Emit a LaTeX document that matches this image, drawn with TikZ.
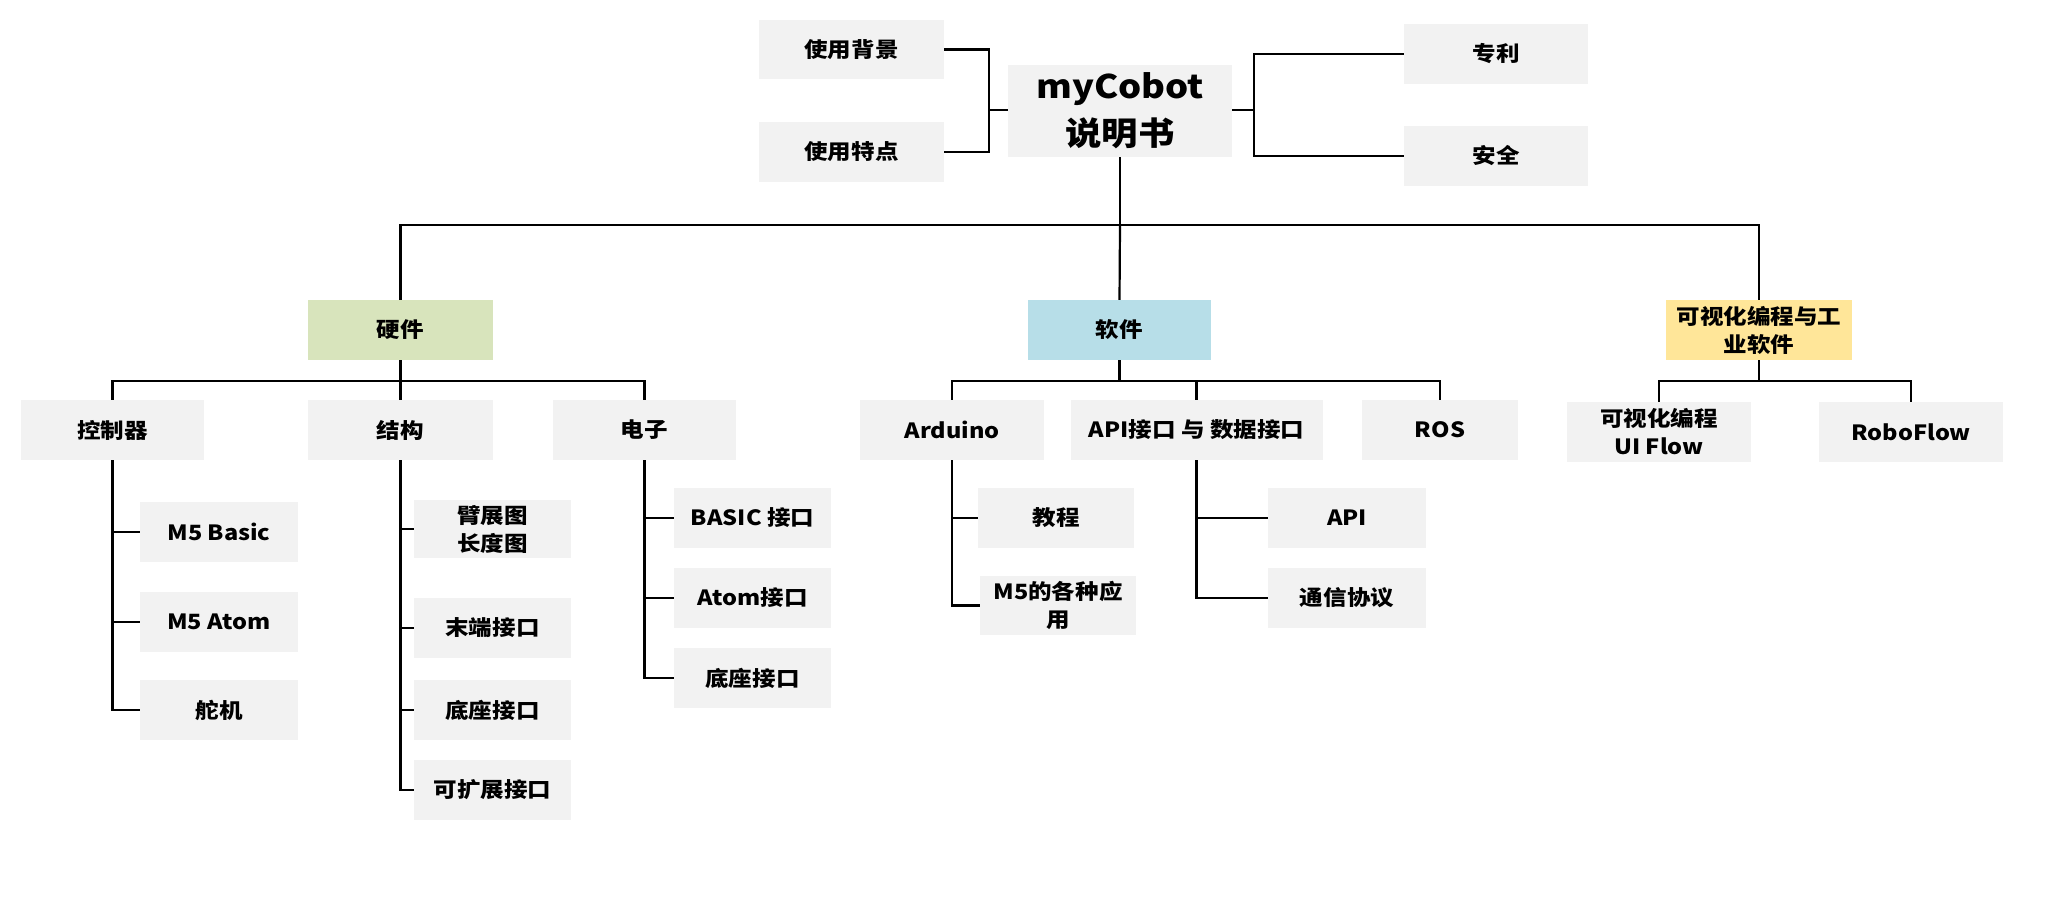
\documentclass[tikz,border=0pt]{standalone}
\usepackage{fontspec}
\setmainfont{Noto Sans CJK SC}[FakeStretch=1.12]
\definecolor{boxgray}{HTML}{F2F2F2}
\definecolor{hwgreen}{HTML}{D8E4BC}
\definecolor{swblue}{HTML}{B7DEE8}
\definecolor{visyellow}{HTML}{FFE699}
\tikzset{
  bx/.style={rectangle, fill=boxgray, inner sep=0pt, align=center,
    font=\fontsize{21}{28}\selectfont\bfseries},
  conn/.style={draw=black, line width=2.2pt}
}
\begin{document}
\begin{tikzpicture}[x=1pt, y=-1pt]
\useasboundingbox (0,0) rectangle (2058,898);
% top level
\node[bx, minimum width=185pt, minimum height=59pt] (bg) at (851.5,49.5) {使用背景};
\node[bx, minimum width=185pt, minimum height=60pt] (tz) at (851.5,152) {使用特点};
\node[bx, minimum width=224pt, minimum height=92pt, font=\fontsize{32.5}{47}\selectfont\bfseries] (root) at (1120,111) {myCobot\\说明书};
\node[bx, minimum width=184pt, minimum height=60pt] (zl) at (1496,54) {专利};
\node[bx, minimum width=184pt, minimum height=60pt] (aq) at (1496,156) {安全};
% second level
\node[bx, fill=hwgreen, minimum width=185pt, minimum height=60pt] (hw) at (400.5,330) {硬件};
\node[bx, fill=swblue, minimum width=183pt, minimum height=60pt] (sw) at (1119.5,330) {软件};
\node[bx, fill=visyellow, minimum width=186pt, minimum height=60pt, text width=180pt] (vis) at (1759,330) {可视化编程与工\\业软件};
% hardware
\node[bx, minimum width=183pt, minimum height=60pt] (kz) at (112.5,430) {控制器};
\node[bx, minimum width=185pt, minimum height=60pt] (jg) at (400.5,430) {结构};
\node[bx, minimum width=183pt, minimum height=60pt] (dz) at (644.5,430) {电子};
\node[bx, minimum width=158pt, minimum height=60pt] (m5b) at (219,532) {M5 Basic};
\node[bx, minimum width=158pt, minimum height=60pt] (m5a) at (219,622) {M5 Atom};
\node[bx, minimum width=158pt, minimum height=60pt] (dj) at (219,710) {舵机};
\node[bx, minimum width=157pt, minimum height=58pt] (bz) at (492.5,529) {臂展图\\长度图};
\node[bx, minimum width=157pt, minimum height=60pt] (mdjk) at (492.5,628) {末端接口};
\node[bx, minimum width=157pt, minimum height=60pt] (dzjka) at (492.5,710) {底座接口};
\node[bx, minimum width=157pt, minimum height=60pt] (kkz) at (492.5,790) {可扩展接口};
\node[bx, minimum width=157pt, minimum height=60pt] (basic) at (752.5,518) {BASIC 接口};
\node[bx, minimum width=157pt, minimum height=60pt] (atomjk) at (752.5,598) {Atom接口};
\node[bx, minimum width=157pt, minimum height=60pt] (dzjkb) at (752.5,678) {底座接口};
% software
\node[bx, minimum width=184pt, minimum height=60pt] (ard) at (952,430) {Arduino};
\node[bx, minimum width=252pt, minimum height=60pt] (api) at (1196.5,430) {API接口 与 数据接口};
\node[bx, minimum width=156pt, minimum height=60pt] (ros) at (1440,430) {ROS};
\node[bx, minimum width=156pt, minimum height=60pt] (jc) at (1056,518) {教程};
\node[bx, minimum width=156pt, minimum height=59pt, text width=150pt] (m5app) at (1058,605.5) {M5的各种应\\用};
\node[bx, minimum width=158pt, minimum height=60pt] (apin) at (1347,518) {API};
\node[bx, minimum width=158pt, minimum height=60pt] (tx) at (1347,598) {通信协议};
% visual programming
\node[bx, minimum width=184pt, minimum height=60pt] (uif) at (1659,432) {可视化编程\\UI Flow};
\node[bx, minimum width=184pt, minimum height=60pt] (rf) at (1911,432) {RoboFlow};
% junctions
\coordinate (lj) at (989,110);
\coordinate (rj) at (1254,110);
\coordinate (mj) at (1120,225);
\coordinate (hb) at (400.5,381);
\coordinate (sb) at (1119.5,381);
\coordinate (vb) at (1759,381);
% connectors
\draw[conn] (bg.east) -| (lj) -- (lj -| root.west);
\draw[conn] (tz.east) -| (lj);
\draw[conn] (rj -| root.east) -- (rj) |- (zl.west);
\draw[conn] (rj) |- (aq.west);
\draw[conn] (root.south) -- (mj);
\draw[conn] (hw.north) -- (hw.north |- mj) -- (vis.north |- mj) -- (vis.north);
\draw[conn] (mj) -- (sw.north);
% hardware bus
\draw[conn] (hw.south) -- (hb);
\draw[conn] (kz.north) |- (hb) -| (dz.north);
\draw[conn] (hb) -- (jg.north);
\draw[conn] (kz.south) |- (dj.west);
\draw[conn] (kz.south |- m5b.west) -- (m5b.west);
\draw[conn] (kz.south |- m5a.west) -- (m5a.west);
\draw[conn] (jg.south) |- (kkz.west);
\draw[conn] (jg.south |- bz.west) -- (bz.west);
\draw[conn] (jg.south |- mdjk.west) -- (mdjk.west);
\draw[conn] (jg.south |- dzjka.west) -- (dzjka.west);
\draw[conn] (dz.south) |- (dzjkb.west);
\draw[conn] (dz.south |- basic.west) -- (basic.west);
\draw[conn] (dz.south |- atomjk.west) -- (atomjk.west);
% software bus
\draw[conn] (sw.south) -- (sb);
\draw[conn] (ard.north) |- (sb) -| (ros.north);
\draw[conn] (api.north) -- (api.north |- sb);
\draw[conn] (ard.south) |- (m5app.west);
\draw[conn] (ard.south |- jc.west) -- (jc.west);
\draw[conn] (api.south) |- (tx.west);
\draw[conn] (api.south |- apin.west) -- (apin.west);
% visual bus
\draw[conn] (vis.south) -- (vb);
\draw[conn] (uif.north) |- (vb) -| (rf.north);
\end{tikzpicture}
\end{document}
